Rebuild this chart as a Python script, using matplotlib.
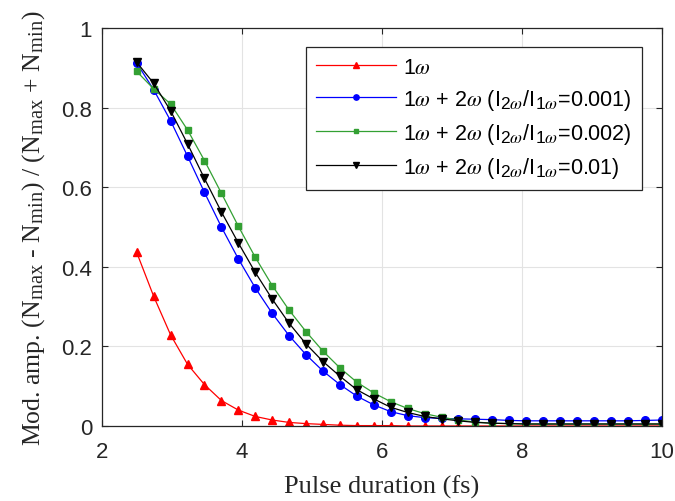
import numpy as np
import matplotlib
matplotlib.use("Agg")
import matplotlib.pyplot as plt
import matplotlib._mathtext as _mt

_mt.SHRINK_FACTOR = 0.8
plt.rcParams['mathtext.fontset'] = 'stix'
plt.rcParams['font.family'] = ['Liberation Sans', 'DejaVu Sans']

# Pulse duration (fs): 32 samples from 2.5 to 10
pulse_fs = np.linspace(2.5, 10, 32)

mod_1w = [0.436, 0.326, 0.229, 0.155, 0.104, 0.064, 0.040, 0.024, 0.015, 0.009,
          0.006, 0.004, 0.002, 0.001, 0.001, 0.001, 0.000, 0.000, 0.000, 0.000,
          0.000, 0.000, 0.000, 0.000, 0.000, 0.000, 0.000, 0.000, 0.000, 0.000,
          0.000, 0.000]
mod_r0001 = [0.912, 0.845, 0.767, 0.678, 0.587, 0.500, 0.420, 0.347, 0.283, 0.227,
             0.179, 0.138, 0.104, 0.075, 0.053, 0.036, 0.026, 0.021, 0.019, 0.018,
             0.017, 0.016, 0.014, 0.013, 0.013, 0.013, 0.013, 0.013, 0.013, 0.013,
             0.014, 0.015]
mod_r0002 = [0.891, 0.847, 0.809, 0.744, 0.667, 0.585, 0.502, 0.424, 0.353, 0.291,
             0.237, 0.188, 0.146, 0.110, 0.083, 0.061, 0.044, 0.031, 0.022, 0.015,
             0.010, 0.007, 0.006, 0.005, 0.005, 0.005, 0.005, 0.005, 0.005, 0.005,
             0.005, 0.005]
mod_r001 = [0.914, 0.861, 0.792, 0.709, 0.622, 0.538, 0.460, 0.386, 0.319, 0.258,
            0.206, 0.162, 0.125, 0.091, 0.068, 0.047, 0.034, 0.024, 0.018, 0.013,
            0.009, 0.007, 0.006, 0.005, 0.005, 0.005, 0.005, 0.005, 0.005, 0.005,
            0.005, 0.005]

labels = [r"1$\omega$",
          r"1$\omega$ + 2$\omega$ (I$_{\mathregular{2}\omega}$/I$_{\mathregular{1}\omega}$=0.001)",
          r"1$\omega$ + 2$\omega$ (I$_{\mathregular{2}\omega}$/I$_{\mathregular{1}\omega}$=0.002)",
          r"1$\omega$ + 2$\omega$ (I$_{\mathregular{2}\omega}$/I$_{\mathregular{1}\omega}$=0.01)"]
x_ticks = [2, 4, 6, 8, 10]
y_ticks = [0, 0.2, 0.4, 0.6, 0.8, 1]
y_ticklabels = ['0', '0.2', '0.4', '0.6', '0.8', '1']

fig = plt.figure(figsize=(6.75, 5.02), dpi=100)
ax = fig.add_axes([0.1507, 0.1494, 0.8296, 0.7928])

ms = 5.5
lw = 0.9
ax.plot(pulse_fs, mod_1w, color='#ff0000', marker='^', ms=ms + 0.8, lw=lw, label=labels[0])
ax.plot(pulse_fs, mod_r0001, color='#0000ff', marker='o', ms=ms, lw=lw, label=labels[1])
ax.plot(pulse_fs, mod_r0002, color='#33a033', marker='s', ms=ms - 0.6, lw=lw, label=labels[2])
ax.plot(pulse_fs, mod_r001, color='#000000', marker='v', ms=ms + 0.8, lw=lw, label=labels[3])

ax.set_xlim(2, 10)
ax.set_ylim(0, 1)
ax.set_xticks(x_ticks)
ax.set_xticklabels([str(t) for t in x_ticks])
ax.set_yticks(y_ticks)
ax.set_yticklabels(y_ticklabels)
ax.tick_params(direction='in', length=4, width=0.8, labelsize=16, colors='#262626',
               top=True, right=True)
ax.tick_params(axis='x', pad=11)
ax.tick_params(axis='y', pad=7)
ax.grid(True, color='#e3e3e3', lw=0.8)
ax.set_axisbelow(True)
for s in ax.spines.values():
    s.set_color('#262626')
    s.set_linewidth(0.9)

ax.set_xlabel("Pulse duration (fs)", family='Liberation Serif', fontsize=19,
              color='#262626')
ax.xaxis.set_label_coords(0.5, -0.122)
ax.set_ylabel(r"Mod. amp. (N$\mathregular{_{max}}$ - N$\mathregular{_{min}}$) / (N$\mathregular{_{max}}$ + N$\mathregular{_{min}}$)",
              family='Liberation Serif', fontsize=18.5, color='#262626')
ax.yaxis.set_label_coords(-0.098, 0.5)

leg = ax.legend(loc='upper right', bbox_to_anchor=(0.964, 0.952), fontsize=15.5,
                fancybox=False, framealpha=1, edgecolor='#262626',
                handlelength=3.7, handletextpad=0.35, borderpad=0.45,
                borderaxespad=0, labelspacing=0.42, markerscale=0.7)
leg.get_frame().set_linewidth(0.9)

fig.savefig("out.png", dpi=100)
